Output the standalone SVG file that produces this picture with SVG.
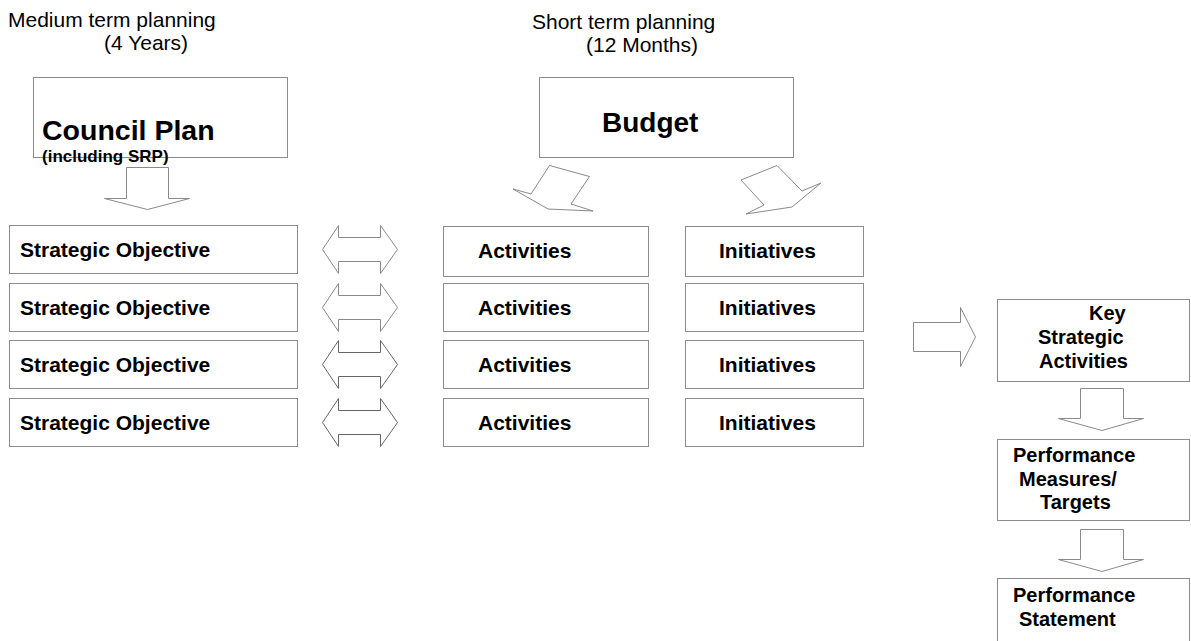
<svg xmlns="http://www.w3.org/2000/svg" width="1191" height="641" viewBox="0 0 1191 641">
  <style>
    .box { fill: #ffffff; stroke: #8c8c8c; stroke-width: 1; }
    .arrow { fill: #ffffff; stroke: #8a8a8a; stroke-width: 1; stroke-linejoin: miter; }
    .arrow.dark { stroke: #666666; }
    .hdr { font-family: "Liberation Sans", Arial, sans-serif; font-size: 21px; fill: #000; }
    .big { font-family: "Liberation Sans", Arial, sans-serif; font-size: 28.5px; font-weight: bold; fill: #000; }
    .lbl { font-family: "Liberation Sans", Arial, sans-serif; font-size: 21px; font-weight: bold; fill: #000; }
    .col { font-family: "Liberation Sans", Arial, sans-serif; font-size: 20px; font-weight: bold; fill: #000; }
    .sub { font-family: "Liberation Sans", Arial, sans-serif; font-size: 17px; font-weight: bold; fill: #000; }
  </style>
  <rect width="1191" height="641" fill="#ffffff"/>

  <!-- planning horizon headings -->
  <g id="heading-medium">
    <text class="hdr" x="8" y="27">Medium term planning</text>
    <text class="hdr" x="104" y="50">(4 Years)</text>
  </g>
  <g id="heading-short">
    <text class="hdr" x="532" y="29">Short term planning</text>
    <text class="hdr" x="586" y="52">(12 Months)</text>
  </g>

  <!-- source documents -->
  <g id="council-plan">
    <rect class="box" x="33.5" y="77.5" width="254" height="80"/>
    <text class="big" x="42" y="140">Council Plan</text>
    <text class="sub" x="42" y="162">(including SRP)</text>
  </g>
  <g id="budget">
    <rect class="box" x="539.5" y="77.5" width="254" height="80"/>
    <text class="big" x="602" y="132" style="font-size:28px">Budget</text>
  </g>

  <!-- strategic objectives column -->
  <g id="objective-1">
    <rect class="box" x="9.5" y="225.5" width="288" height="48"/>
    <text class="lbl" x="20" y="257">Strategic Objective</text>
  </g>
  <g id="objective-2">
    <rect class="box" x="9.5" y="283.5" width="288" height="48"/>
    <text class="lbl" x="20" y="315">Strategic Objective</text>
  </g>
  <g id="objective-3">
    <rect class="box" x="9.5" y="340.5" width="288" height="48"/>
    <text class="lbl" x="20" y="372">Strategic Objective</text>
  </g>
  <g id="objective-4">
    <rect class="box" x="9.5" y="398.5" width="288" height="48"/>
    <text class="lbl" x="20" y="430">Strategic Objective</text>
  </g>

  <!-- activities column -->
  <g id="activities-1">
    <rect class="box" x="443.5" y="226.5" width="205" height="50"/>
    <text class="lbl" x="478" y="258">Activities</text>
  </g>
  <g id="activities-2">
    <rect class="box" x="443.5" y="283.5" width="205" height="48"/>
    <text class="lbl" x="478" y="315">Activities</text>
  </g>
  <g id="activities-3">
    <rect class="box" x="443.5" y="340.5" width="205" height="48"/>
    <text class="lbl" x="478" y="372">Activities</text>
  </g>
  <g id="activities-4">
    <rect class="box" x="443.5" y="398.5" width="205" height="48"/>
    <text class="lbl" x="478" y="430">Activities</text>
  </g>

  <!-- initiatives column -->
  <g id="initiatives-1">
    <rect class="box" x="685.5" y="226.5" width="178" height="50"/>
    <text class="lbl" x="719" y="258">Initiatives</text>
  </g>
  <g id="initiatives-2">
    <rect class="box" x="685.5" y="283.5" width="178" height="48"/>
    <text class="lbl" x="719" y="315">Initiatives</text>
  </g>
  <g id="initiatives-3">
    <rect class="box" x="685.5" y="340.5" width="178" height="48"/>
    <text class="lbl" x="719" y="372">Initiatives</text>
  </g>
  <g id="initiatives-4">
    <rect class="box" x="685.5" y="398.5" width="178" height="48"/>
    <text class="lbl" x="719" y="430">Initiatives</text>
  </g>

  <!-- reporting chain -->
  <g id="key-strategic-activities">
    <rect class="box" x="997.5" y="299.5" width="192" height="82"/>
    <text class="col" x="1089" y="320">Key</text>
    <text class="col" x="1038" y="344">Strategic</text>
    <text class="col" x="1039" y="368">Activities</text>
  </g>
  <g id="performance-measures">
    <rect class="box" x="997.5" y="439.5" width="192" height="81"/>
    <text class="col" x="1013" y="462">Performance</text>
    <text class="col" x="1019" y="486">Measures/</text>
    <text class="col" x="1040" y="509">Targets</text>
  </g>
  <g id="performance-statement">
    <rect class="box" x="997.5" y="578.5" width="192" height="80"/>
    <text class="col" x="1013" y="602">Performance</text>
    <text class="col" x="1019" y="626">Statement</text>
  </g>

  <!-- block arrows -->
  <g id="connectors">
    <!-- council plan down to objectives -->
    <polygon class="arrow" points="126.5,167.5 168.5,167.5 168.5,198.5 189.5,198.5 147.5,209.5 104.5,198.5 126.5,198.5"/>
    <!-- budget down to activities / initiatives -->
    <polygon class="arrow" points="549.5,165.5 589.5,176.5 571,204 593,211 548,209 513,189 531,194"/>
    <polygon class="arrow" points="741,180 777,165.5 802,191 821,183 792,207 746,214 764,205"/>
    <!-- objectives to activities, two-way -->
    <polygon class="arrow" points="322.5,249.5 338.5,225.5 338.5,237.5 380.5,237.5 380.5,225.5 397.5,249.5 380.5,273.5 380.5,261.5 338.5,261.5 338.5,273.5"/>
    <polygon class="arrow" points="322.5,307.5 338.5,283.5 338.5,295.5 380.5,295.5 380.5,283.5 397.5,307.5 380.5,331.5 380.5,319.5 338.5,319.5 338.5,331.5"/>
    <polygon class="arrow dark" points="322.5,364.5 338.5,340.5 338.5,352.5 380.5,352.5 380.5,340.5 397.5,364.5 380.5,388.5 380.5,376.5 338.5,376.5 338.5,388.5"/>
    <polygon class="arrow dark" points="322.5,422.5 338.5,398.5 338.5,410.5 380.5,410.5 380.5,398.5 397.5,422.5 380.5,446.5 380.5,434.5 338.5,434.5 338.5,446.5"/>
    <!-- initiatives across to key strategic activities -->
    <polygon class="arrow" points="913.5,322.5 960.5,322.5 960.5,307.5 975.5,337 960.5,366.5 960.5,351.5 913.5,351.5"/>
    <!-- down the reporting chain -->
    <polygon class="arrow" points="1080.5,388.5 1123.5,388.5 1123.5,418.5 1143.5,418.5 1102,430.5 1058.5,418.5 1080.5,418.5"/>
    <polygon class="arrow" points="1080.5,529.5 1123.5,529.5 1123.5,559.5 1143.5,559.5 1102,571.5 1058.5,559.5 1080.5,559.5"/>
  </g>
</svg>
